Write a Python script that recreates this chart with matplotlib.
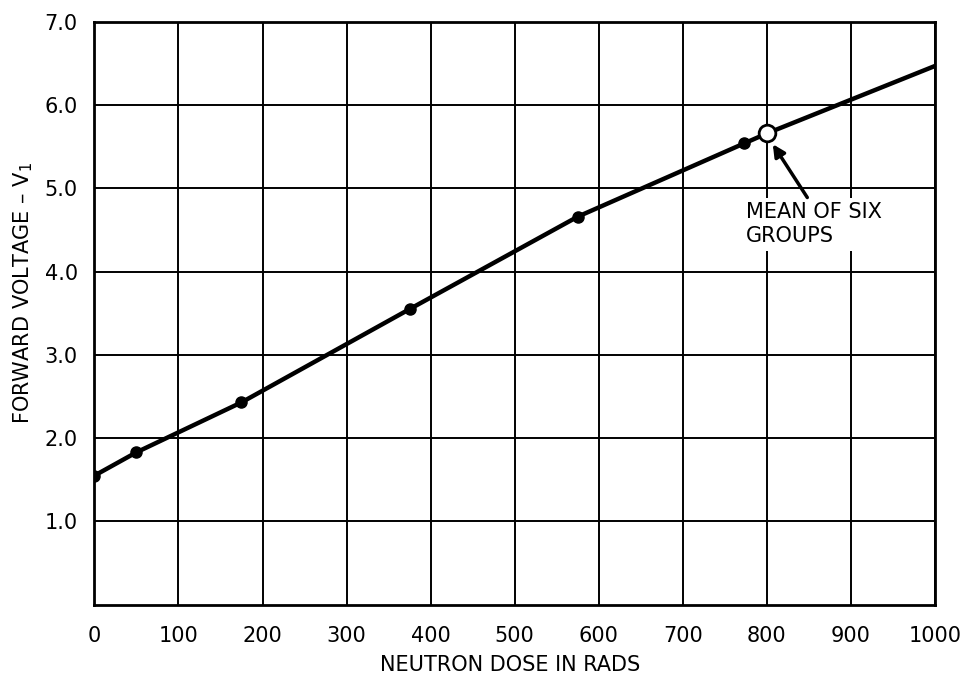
import numpy as np
from matplotlib import pyplot as plt

# measured points (neutron dose in rads, forward voltage)
dose = [0, 50, 175, 375, 575, 773]
volts = [1.55, 1.83, 2.43, 3.55, 4.66, 5.54]

# mean of six groups (open circle)
mean_dose = 800
mean_volts = 5.66

# curve drawn through the points, extended to the right edge
curve_dose = [0, 50, 175, 375, 575, 773, 800, 1000]
curve_volts = [1.55, 1.83, 2.43, 3.55, 4.66, 5.54, 5.66, 6.47]

xticks = np.arange(0, 1001, 100)
yticks = [1.0, 2.0, 3.0, 4.0, 5.0, 6.0, 7.0]
ytick_labels = ["1.0", "2.0", "3.0", "4.0", "5.0", "6.0", "7.0"]

plt.rcParams['font.family'] = ['DejaVu Sans']

fig = plt.figure(figsize=(9.63, 6.81), dpi=100)
ax = fig.add_axes([0.098, 0.112, 0.873, 0.856])

ax.set_xlim(0, 1000)
ax.set_ylim(0, 7.0)
ax.set_xticks(xticks)
ax.set_yticks(yticks)
ax.set_yticklabels(ytick_labels)
ax.tick_params(axis='x', length=0, labelsize=15, pad=15)
ax.tick_params(axis='y', length=0, labelsize=15, pad=12)
ax.grid(True, color='black', linewidth=1.4)
for s in ax.spines.values():
	s.set_linewidth(2)

ax.plot(curve_dose, curve_volts, color='black', linewidth=3.2, zorder=3)
ax.plot(dose, volts, 'o', color='black', markersize=8, zorder=4)
ax.plot([mean_dose], [mean_volts], 'o', markerfacecolor='white',
	markeredgecolor='black', markeredgewidth=2, markersize=12, zorder=5)

ax.text(775, 4.84, "MEAN OF SIX\nGROUPS", fontsize=15, va='top', ha='left',
	linespacing=1.3, zorder=6,
	bbox=dict(facecolor='white', edgecolor='none', pad=3))
ax.annotate('', xy=(807, 5.53), xytext=(848, 4.89),
	arrowprops=dict(arrowstyle='-|>', color='black', lw=2.5,
		mutation_scale=18, shrinkA=0, shrinkB=0), zorder=7)

fig.text(0.53, 0.014, "NEUTRON DOSE IN RADS", fontsize=15, ha='center', va='baseline')
fig.text(0.024, 0.57, "FORWARD VOLTAGE – V$_1$", fontsize=15, rotation=90,
	ha='center', va='center')

fig.savefig("out.png", dpi=100)
